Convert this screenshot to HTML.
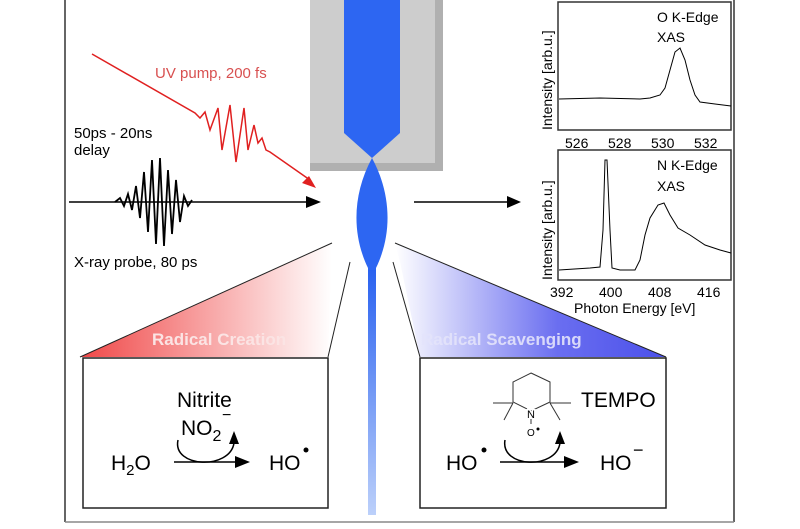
<!DOCTYPE html>
<html><head><meta charset="utf-8"><style>
body{margin:0;background:#fff;}
svg text{font-family:"Liberation Sans",sans-serif;}
</style></head><body>
<svg width="800" height="524" viewBox="0 0 800 524" xmlns="http://www.w3.org/2000/svg">
<defs>
<linearGradient id="rg" x1="0" y1="0" x2="1" y2="0"><stop offset="0" stop-color="#f04848"/><stop offset="1" stop-color="#fff"/></linearGradient>
<linearGradient id="bg" x1="0" y1="0" x2="1" y2="0"><stop offset="0" stop-color="#fff"/><stop offset="0.6" stop-color="#6a6ef0"/><stop offset="1" stop-color="#4b50ea"/></linearGradient>
<linearGradient id="sg" x1="0" y1="0" x2="0" y2="1"><stop offset="0" stop-color="#2a62f0"/><stop offset="1" stop-color="#bcd0fa"/></linearGradient>
</defs>
<line x1="65" y1="0" x2="65" y2="522" stroke="#666" stroke-width="2"/>
<line x1="734" y1="0" x2="734" y2="522" stroke="#666" stroke-width="2"/>
<line x1="65" y1="522" x2="734" y2="522" stroke="#888" stroke-width="1.5"/>
<!-- nozzle -->
<rect x="310" y="0" width="133" height="171" fill="#b0b0b0"/>
<rect x="310" y="0" width="125" height="163" fill="#cdcdcd"/>
<polygon points="344,0 400,0 400,133 372,158 344,133" fill="#2d66f2"/>
<path d="M372,158 C392,195 392,235 376,268 L376,515 L368,515 L368,268 C352,235 352,195 372,158Z" fill="#2d66f2"/>
<rect x="368" y="270" width="8" height="245" fill="url(#sg)"/>
<!-- UV pump -->
<text x="155" y="78" font-size="15" fill="#d85050">UV pump, 200 fs</text>
<polyline points="92,54 195,113 200,118 205,112 210,130 218,108 222,150 230,105 236,162 244,108 248,150 254,125 258,143 262,138 266,150 270,152 310,180" fill="none" stroke="#e02020" stroke-width="1.5"/>
<polygon points="316,188 302,183 309,176" fill="#e02020"/>
<!-- X-ray probe -->
<text x="74" y="138" font-size="15" fill="#000">50ps - 20ns</text>
<text x="74" y="155" font-size="15" fill="#000">delay</text>
<line x1="69" y1="202" x2="310" y2="202" stroke="#000" stroke-width="1.5"/>
<polygon points="321,202 306,196 306,208" fill="#000"/>
<polyline points="115,202 120,198 124,206 128,194 132,210 136,186 140,218 144,172 148,232 152,160 156,244 160,158 164,246 168,170 172,234 176,180 180,222 184,196 188,206 192,200" fill="none" stroke="#000" stroke-width="1.8"/>
<text x="74" y="267" font-size="15" fill="#000">X-ray probe, 80 ps</text>
<!-- arrow to plots -->
<line x1="414" y1="202" x2="510" y2="202" stroke="#000" stroke-width="1.5"/>
<polygon points="521,202 507,196 507,208" fill="#000"/>
<!-- top plot -->
<rect x="558" y="2" width="173" height="128" fill="#fff" stroke="#333" stroke-width="1.5"/>
<text x="657" y="22" font-size="14">O K-Edge</text>
<text x="657" y="42" font-size="14">XAS</text>
<text transform="translate(552,130) rotate(-90)" font-size="14">Intensity [arb.u.]</text>
<polyline points="559,99 600,98 640,99 650,98 660,95 665,88 670,70 675,52 680,48 685,60 690,80 695,95 700,102 715,104 731,106" fill="none" stroke="#000" stroke-width="1"/>
<text x="565" y="148" font-size="14">526</text><text x="608" y="148" font-size="14">528</text><text x="651" y="148" font-size="14">530</text><text x="694" y="148" font-size="14">532</text>
<!-- bottom plot -->
<rect x="558" y="150" width="173" height="130" fill="#fff" stroke="#333" stroke-width="1.5"/>
<text x="657" y="170" font-size="14">N K-Edge</text>
<text x="657" y="191" font-size="14">XAS</text>
<text transform="translate(552,280) rotate(-90)" font-size="14">Intensity [arb.u.]</text>
<polyline points="559,270 590,268 600,267 603,230 605,160 607,160 610,230 612,268 620,270 635,270 640,260 645,235 650,218 658,205 664,203 670,215 678,228 690,235 705,245 720,250 731,253" fill="none" stroke="#000" stroke-width="1"/>
<text x="550" y="297" font-size="14">392</text><text x="599" y="297" font-size="14">400</text><text x="648" y="297" font-size="14">408</text><text x="697" y="297" font-size="14">416</text>
<text x="574" y="313" font-size="14">Photon Energy [eV]</text>
<!-- triangles -->
<polygon points="80,357 332,243 328,357" fill="url(#rg)"/>
<line x1="80" y1="357" x2="332" y2="243" stroke="#222" stroke-width="1"/>
<line x1="350" y1="262" x2="328" y2="357" stroke="#222" stroke-width="1"/>
<text x="152" y="345" font-size="17" font-weight="bold" fill="#fbe4e4">Radical Creation</text>
<polygon points="395,243 666,357 420,357 400,262" fill="url(#bg)"/>
<line x1="395" y1="243" x2="666" y2="357" stroke="#222" stroke-width="1"/>
<line x1="393" y1="262" x2="420" y2="357" stroke="#222" stroke-width="1"/>
<text x="421" y="345" font-size="17" font-weight="bold" fill="#e4e4fb" opacity="0.9">Radical Scavenging</text>
<!-- boxes -->
<rect x="83" y="358" width="245" height="150" fill="#fff" stroke="#222" stroke-width="1.5"/>
<rect x="420" y="358" width="246" height="150" fill="#fff" stroke="#222" stroke-width="1.5"/>
<!-- left reaction -->
<text x="177" y="407" font-size="21">Nitrite</text>
<text x="181" y="435" font-size="21">NO<tspan font-size="16" dy="6">2</tspan></text>
<text x="222" y="420" font-size="16">−</text>
<text x="111" y="470" font-size="21">H<tspan font-size="15" dy="5">2</tspan><tspan dy="-5">O</tspan></text>
<line x1="174" y1="462" x2="238" y2="462" stroke="#000" stroke-width="1.5"/>
<polygon points="250,462 235,456 235,468" fill="#000"/>
<path d="M178,440 C172,468 230,470 234,443" fill="none" stroke="#000" stroke-width="1.5"/>
<polygon points="234,431 229,444 239,444" fill="#000"/>
<text x="269" y="470" font-size="21">HO</text>
<circle cx="306" cy="450" r="2.5" fill="#000"/>
<!-- right reaction -->
<polygon points="531,373 550,382 550,402 531,411 513,402 513,382" fill="none" stroke="#333" stroke-width="1"/>
<line x1="493" y1="403" x2="513" y2="403" stroke="#333"/><line x1="513" y1="403" x2="504" y2="420" stroke="#333"/>
<line x1="550" y1="403" x2="571" y2="403" stroke="#333"/><line x1="550" y1="403" x2="560" y2="420" stroke="#333"/>
<text x="527" y="418" font-size="11" fill="#fff" stroke="#fff" stroke-width="3">N</text>
<text x="527" y="418" font-size="11">N</text>
<line x1="531" y1="419" x2="531" y2="424" stroke="#333"/>
<text x="527" y="436" font-size="10">O</text>
<circle cx="538" cy="429" r="1.5" fill="#000"/>
<text x="581" y="407" font-size="21">TEMPO</text>
<text x="446" y="470" font-size="21">HO</text>
<circle cx="484" cy="450" r="2.5" fill="#000"/>
<line x1="500" y1="462" x2="567" y2="462" stroke="#000" stroke-width="1.5"/>
<polygon points="579,462 564,456 564,468" fill="#000"/>
<path d="M505,440 C500,468 556,470 560,443" fill="none" stroke="#000" stroke-width="1.5"/>
<polygon points="560,431 555,444 565,444" fill="#000"/>
<text x="600" y="470" font-size="21">HO</text>
<text x="633" y="456" font-size="18">−</text>
</svg>
</body></html>
